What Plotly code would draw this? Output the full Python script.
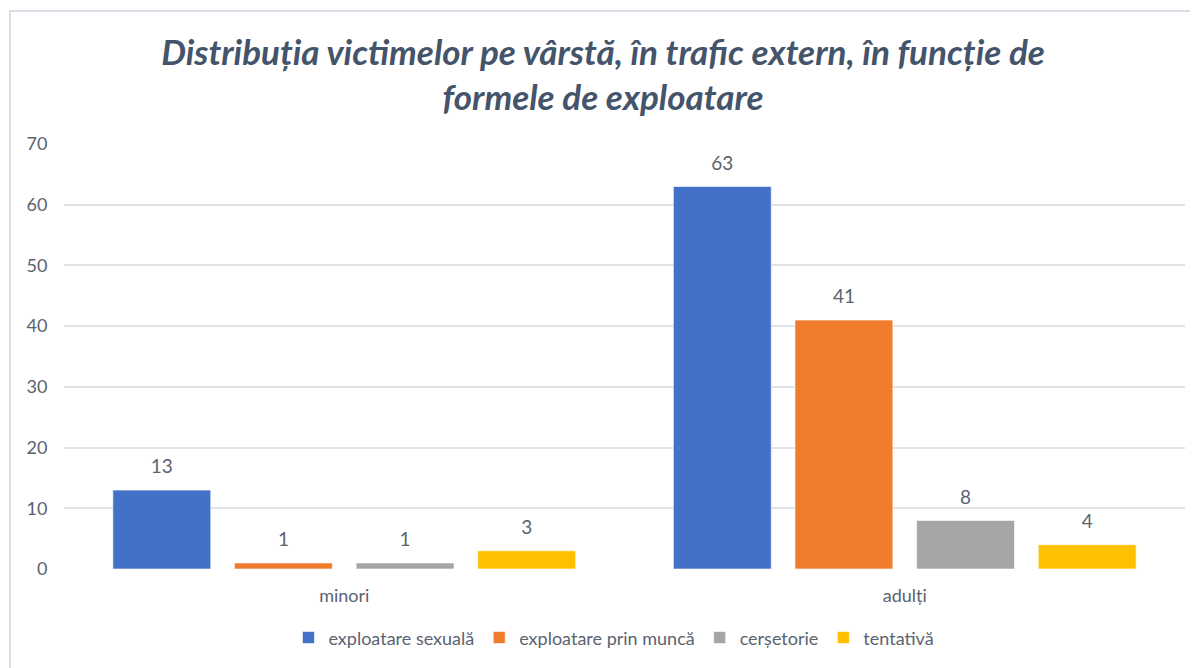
import plotly.graph_objects as go

categories = ["minori", "adulți"]
series_names = ["exploatare sexuală", "exploatare prin muncă", "cerșetorie", "tentativă"]
sexuala = [13, 63]
munca = [1, 41]
cersetorie = [1, 8]
tentativa = [3, 4]
series_values = [sexuala, munca, cersetorie, tentativa]
colors = ["#4471C8", "#F07D2E", "#A5A5A5", "#FFC000"]
y_ticks = [0, 10, 20, 30, 40, 50, 60, 70]

text_color = "#5B6370"
font_family = "Lato, 'Open Sans', sans-serif"

fig = go.Figure()
for name, vals, col in zip(series_names, series_values, colors):
    fig.add_trace(go.Bar(
        x=categories, y=vals, name=name,
        marker=dict(color=col, line=dict(color="rgba(255,255,255,0.6)", width=1)),
        texttemplate="<span style='font-size:19px'>%{y}</span><br> ", textposition="outside",
        textfont=dict(size=9, color=text_color, family=font_family),
        cliponaxis=False,
    ))

fig.update_layout(
    width=1190, height=660,
    margin=dict(l=56, r=13, t=136, b=99),
    paper_bgcolor="white", plot_bgcolor="white",
    barmode="group", bargap=0.132, bargroupgap=0.195,
    title=dict(
        text="Distribuția victimelor pe vârstă, în trafic extern, în funcție de<br>formele de exploatare",
        x=0.5, xanchor="center", y=0.914, yanchor="middle",
        font=dict(size=35, color="#44546A", family=font_family, weight="bold", style="italic"),
    ),
    xaxis=dict(showgrid=False, showline=False, ticks="outside", ticklen=10, tickcolor="rgba(0,0,0,0)",
               tickfont=dict(size=18, color=text_color, family=font_family)),
    yaxis=dict(range=[0, 70], tickvals=y_ticks, showgrid=True, gridcolor="#DFE3E8", gridwidth=1.5,
               zeroline=False, showline=False, ticks="outside", ticklen=12, tickcolor="rgba(0,0,0,0)",
               tickfont=dict(size=18, color=text_color, family=font_family)),
    legend=dict(orientation="h", x=0.4906, xanchor="center", y=-0.162, yanchor="middle",
                font=dict(size=18, color=text_color, family=font_family),
                itemwidth=30, traceorder="normal"),
    showlegend=True,
)

fig.add_shape(type="rect", xref="paper", yref="paper",
              x0=-0.0482, x1=1.05, y0=-0.4, y1=1.313,
              line=dict(color="#D9DEE6", width=2), fillcolor="rgba(0,0,0,0)", layer="below")

fig.write_html("out.html")
